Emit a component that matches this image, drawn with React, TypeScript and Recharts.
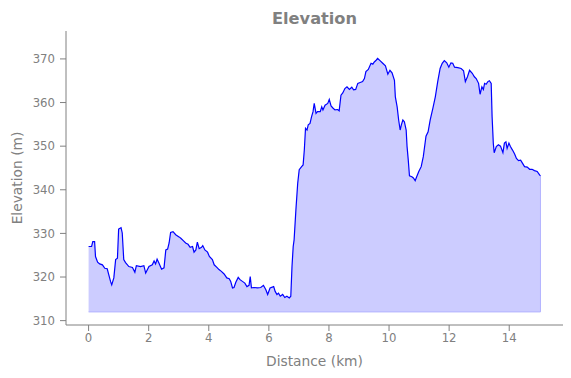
import {
  ComposedChart,
  Area,
  Line,
  XAxis,
  YAxis,
  ReferenceLine,
  Label,
} from "recharts";

const distKm = [
  0, 0.1, 0.14, 0.2, 0.23, 0.3, 0.37, 0.46, 0.54, 0.62, 0.73, 0.77, 0.84, 0.9, 0.96,
  1.0, 1.08, 1.12, 1.17, 1.23, 1.34, 1.46, 1.54, 1.59, 1.73, 1.84, 1.9, 2.01, 2.12,
  2.18, 2.23, 2.28, 2.34, 2.43, 2.51, 2.57, 2.63, 2.68, 2.73, 2.81, 2.9, 3.01, 3.07,
  3.16, 3.23, 3.31, 3.38, 3.46, 3.51, 3.57, 3.62, 3.68, 3.76, 3.8, 3.87, 3.96, 4.02,
  4.12, 4.18, 4.27, 4.34, 4.42, 4.51, 4.6, 4.68, 4.73, 4.79, 4.84, 4.9, 4.98, 5.04,
  5.12, 5.2, 5.27, 5.34, 5.38, 5.42, 5.51, 5.62, 5.73, 5.82, 5.9, 5.96, 6.04, 6.16,
  6.21, 6.27, 6.32, 6.38, 6.46, 6.53, 6.6, 6.68, 6.73, 6.77, 6.81, 6.84, 6.9, 6.96,
  7.01, 7.09, 7.14, 7.18, 7.22, 7.27, 7.31, 7.37, 7.42, 7.47, 7.51, 7.57, 7.62, 7.71,
  7.76, 7.8, 7.87, 7.96, 8.01, 8.07, 8.14, 8.2, 8.29, 8.34, 8.4, 8.46, 8.53, 8.6,
  8.68, 8.76, 8.82, 8.89, 8.96, 9.04, 9.12, 9.18, 9.23, 9.31, 9.4, 9.46, 9.51, 9.57,
  9.62, 9.7, 9.79, 9.88, 9.96, 10.03, 10.1, 10.18, 10.21, 10.27, 10.32, 10.37, 10.41,
  10.46, 10.51, 10.57, 10.6, 10.64, 10.68, 10.76, 10.81, 10.87, 10.92, 10.99, 11.07,
  11.14, 11.23, 11.3, 11.37, 11.46, 11.54, 11.62, 11.7, 11.77, 11.84, 11.92, 11.99,
  12.06, 12.12, 12.18, 12.29, 12.4, 12.48, 12.54, 12.61, 12.68, 12.77, 12.84, 12.9,
  12.98, 13.03, 13.09, 13.14, 13.18, 13.23, 13.29, 13.34, 13.4, 13.43, 13.47, 13.5,
  13.57, 13.64, 13.71, 13.79, 13.84, 13.89, 13.93, 13.99, 14.04, 14.11, 14.18, 14.24,
  14.31, 14.38, 14.44, 14.51, 14.6, 14.68, 14.76, 14.84, 14.93, 15.01, 15.04,
];

const elevM = [
  327.0, 327.0, 328.1, 328.1, 324.7, 323.4, 323.0, 322.8, 322.0, 321.9, 319.0, 318.2,
  319.8, 324.0, 324.3, 331.0, 331.3, 330.1, 324.0, 323.3, 322.4, 322.2, 321.1, 322.6,
  322.4, 322.6, 320.9, 322.4, 322.8, 323.7, 323.0, 324.1, 323.2, 321.8, 322.1, 326.2,
  326.4, 327.8, 330.2, 330.4, 329.7, 329.2, 328.9, 328.3, 327.8, 327.5, 326.8, 327.0,
  325.7, 326.2, 328.0, 326.5, 326.8, 327.2, 326.2, 325.7, 324.7, 324.0, 322.8, 322.2,
  321.7, 321.3, 320.7, 319.8, 319.6, 319.0, 317.5, 317.6, 318.8, 319.9, 319.4, 319.0,
  318.6, 317.8, 318.1, 320.1, 317.5, 317.6, 317.5, 317.6, 318.1, 317.1, 316.0, 317.5,
  317.8, 316.7, 316.0, 316.3, 315.6, 316.0, 315.3, 315.6, 315.2, 315.6, 322.4, 327.0,
  328.5, 335.4, 341.5, 344.6, 345.3, 345.7, 349.1, 354.1, 353.7, 354.9, 355.2, 356.7,
  357.9, 359.8, 357.5, 357.9, 357.9, 359.0, 358.3, 359.4, 359.8, 360.7, 359.2, 358.7,
  358.3, 358.4, 358.1, 361.7, 362.2, 363.2, 363.6, 363.0, 363.5, 362.9, 363.0, 364.4,
  364.6, 364.8, 365.5, 367.1, 367.6, 369.0, 368.8, 369.3, 369.7, 370.1, 369.6, 369.0,
  368.4, 366.5, 367.4, 366.8, 365.1, 361.3, 359.0, 356.0, 353.7, 354.9, 356.0, 355.6,
  353.7, 349.9, 346.8, 343.2, 343.0, 342.7, 342.1, 343.0, 344.2, 345.3, 347.6, 352.3,
  353.3, 356.0, 358.7, 361.3, 364.8, 367.8, 369.0, 369.6, 369.1, 368.1, 369.1, 369.0,
  368.1, 368.0, 367.8, 367.3, 364.8, 365.9, 367.4, 366.7, 365.9, 365.5, 364.4, 361.9,
  363.6, 363.0, 364.4, 364.2, 364.8, 365.0, 364.4, 356.8, 350.7, 348.5, 349.9, 350.3,
  350.0, 348.5, 350.7, 351.0, 349.5, 350.7, 349.9, 349.1, 348.2, 347.2, 346.7, 346.8,
  346.1, 345.3, 345.2, 344.7, 344.7, 344.4, 344.2, 343.4, 343.2,
];

const xTicks = [0, 2, 4, 6, 8, 10, 12, 14];
const yTicks = [310, 320, 330, 340, 350, 360, 370];
const fillBase = 312;

const profile = distKm.map((d, i) => ({ d, elev: elevM[i] }));

const GREY = "#808080";
const FONT = "'DejaVu Sans', sans-serif";

export default function App() {
  const lastDist = distKm[distKm.length - 1];
  return (
    <div
      style={{
        position: "absolute",
        left: 0,
        top: 0,
        width: 571,
        height: 378,
        background: "#fff",
        fontFamily: FONT,
      }}
    >
      <div
        style={{
          position: "absolute",
          left: 66,
          width: 497,
          top: 9,
          textAlign: "center",
          fontWeight: "bold",
          fontSize: 16.2,
          color: GREY,
          lineHeight: "20px",
        }}
      >
        Elevation
      </div>
      <ComposedChart
        width={571}
        height={378}
        data={profile}
        margin={{ top: 31, right: 8, left: 0, bottom: 0 }}
      >
        <XAxis
          dataKey="d"
          type="number"
          domain={[-0.752, 15.79]}
          ticks={xTicks}
          allowDataOverflow
          height={53}
          tickSize={6}
          tickMargin={3}
          stroke={GREY}
          tick={{ fill: GREY, fontSize: 11.7, fontFamily: FONT }}
        >
          <Label
            content={({ viewBox }: any) => (
              <text
                x={viewBox.x + viewBox.width / 2}
                y={viewBox.y + 41}
                textAnchor="middle"
                fill={GREY}
                fontSize={13.8}
                fontFamily={FONT}
              >
                Distance (km)
              </text>
            )}
          />
        </XAxis>
        <YAxis
          type="number"
          domain={[309, 376.4]}
          ticks={yTicks}
          allowDataOverflow
          width={66}
          tickSize={6}
          tickMargin={5}
          stroke={GREY}
          tick={{ fill: GREY, fontSize: 11.7, fontFamily: FONT }}
        >
          <Label
            content={({ viewBox }: any) => {
              const cx = 17;
              const cy = viewBox.y + viewBox.height / 2;
              return (
                <text
                  x={cx}
                  y={cy}
                  transform={`rotate(-90 ${cx} ${cy})`}
                  textAnchor="middle"
                  dominantBaseline="central"
                  fill={GREY}
                  fontSize={13.8}
                  fontFamily={FONT}
                >
                  Elevation (m)
                </text>
              );
            }}
          />
        </YAxis>
        <Area
          dataKey="elev"
          type="linear"
          baseValue={fillBase}
          fill="#ccccff"
          fillOpacity={1}
          stroke="none"
          isAnimationActive={false}
        />
        <ReferenceLine
          segment={[
            { x: 0, y: fillBase },
            { x: lastDist, y: fillBase },
          ]}
          stroke="#b3b3ff"
          strokeWidth={1}
        />
        <ReferenceLine
          segment={[
            { x: lastDist, y: fillBase },
            { x: lastDist, y: elevM[elevM.length - 1] },
          ]}
          stroke="#b3b3ff"
          strokeWidth={1}
        />
        <Line
          dataKey="elev"
          type="linear"
          stroke="#0000ff"
          strokeWidth={1.2}
          dot={false}
          isAnimationActive={false}
        />
      </ComposedChart>
    </div>
  );
}
